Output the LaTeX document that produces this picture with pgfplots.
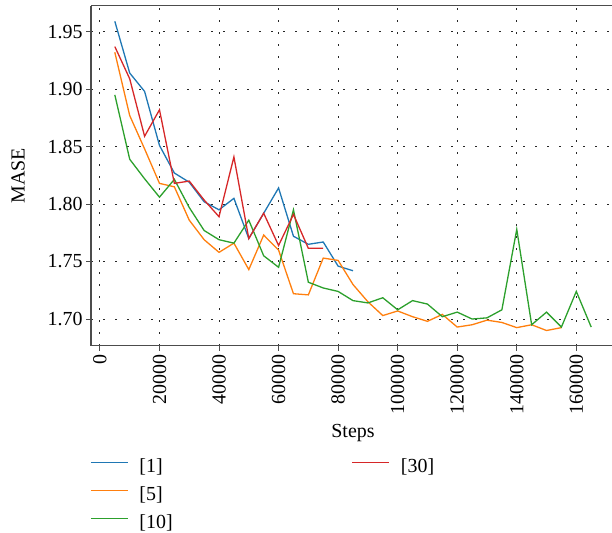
\documentclass[border=0pt]{standalone}
\usepackage{pgfplots}
\pgfplotsset{compat=1.18}
\usepackage{fontspec}
\setmainfont{Liberation Serif}

\definecolor{tabblue}{HTML}{1F77B4}
\definecolor{taborange}{HTML}{FF7F0E}
\definecolor{tabgreen}{HTML}{2CA02C}
\definecolor{tabred}{HTML}{D62728}

\newcommand{\chartfont}{\fontsize{20}{24}\selectfont}

% MASE over training steps for four settings
\pgfplotstableread{
step mase
5000 1.959
10000 1.914
15000 1.898
20000 1.851
25000 1.827
30000 1.819
35000 1.802
40000 1.795
45000 1.805
50000 1.770
55000 1.792
60000 1.814
65000 1.772
70000 1.765
75000 1.767
80000 1.746
85000 1.742
}\runone

\pgfplotstableread{
step mase
5000 1.932
10000 1.877
15000 1.848
20000 1.818
25000 1.815
30000 1.786
35000 1.769
40000 1.758
45000 1.766
50000 1.743
55000 1.773
60000 1.760
65000 1.722
70000 1.721
75000 1.753
80000 1.751
85000 1.730
90000 1.715
95000 1.703
100000 1.707
105000 1.702
110000 1.698
115000 1.704
120000 1.693
125000 1.695
130000 1.699
135000 1.697
140000 1.6925
145000 1.695
150000 1.690
155000 1.6925
}\runfive

\pgfplotstableread{
step mase
5000 1.895
10000 1.839
15000 1.822
20000 1.806
25000 1.8215
30000 1.797
35000 1.777
40000 1.769
45000 1.766
50000 1.786
55000 1.755
60000 1.745
65000 1.795
70000 1.732
75000 1.727
80000 1.724
85000 1.716
90000 1.714
95000 1.7185
100000 1.708
105000 1.716
110000 1.713
115000 1.702
120000 1.706
125000 1.700
130000 1.701
135000 1.708
140000 1.778
145000 1.695
150000 1.706
155000 1.693
160000 1.724
165000 1.693
}\runten

\pgfplotstableread{
step mase
5000 1.937
10000 1.909
15000 1.859
20000 1.882
25000 1.818
30000 1.820
35000 1.8035
40000 1.789
45000 1.841
50000 1.770
55000 1.792
60000 1.764
65000 1.791
70000 1.7615
75000 1.7615
}\runthirty

\begin{document}
\begin{tikzpicture}[x=1bp,y=1bp]
\clip (0,0) rectangle (612,533);
\begin{axis}[
  at={(91bp,187.2bp)}, anchor=south west,
  scale only axis, width=524bp, height=340bp,
  xmin=-3000, xmax=173000, ymin=1.6767, ymax=1.9725,
  xtick={0,20000,40000,60000,80000,100000,120000,140000,160000},
  xticklabels={0,20000,40000,60000,80000,100000,120000,140000,160000},
  ytick={1.70,1.75,1.80,1.85,1.90,1.95},
  yticklabels={1.70,1.75,1.80,1.85,1.90,1.95},
  scaled x ticks=false,
  axis lines*=left,
  tick align=outside,
  major tick length=5bp,
  tick style={black!70, line width=0.9bp},
  axis line style={black!70, line width=1.3bp, -},
  grid=major,
  major grid style={black!85, line width=0.9bp, dash pattern=on 1.8bp off 10.2bp},
  tick label style={font=\chartfont},
  xticklabel style={rotate=90, anchor=east},
  label style={font=\chartfont},
  xlabel={Steps},
  ylabel={MASE},
  xlabel style={at={(axis description cs:0.5,-0.256)}, anchor=center},
  ylabel style={at={(axis description cs:-0.139,0.5)}, anchor=center},
  legend style={font=\chartfont, draw=none, fill=none, inner sep=0bp,
    at={(axis description cs:-0.002,-0.327)}, anchor=north west,
    row sep=8bp,
    nodes={inner sep=0bp, text height=15bp, text depth=5bp},
    /tikz/every odd column/.append style={column sep=11bp},
    /tikz/every even column/.append style={column sep=179bp}},
  legend cell align=left,
  legend columns=2,
  legend image code/.code={\draw[#1] (0bp,5bp) -- (37bp,5bp);},
  every axis plot/.append style={line width=1.3bp},
]
\draw[black!70, line width=1.3bp] (rel axis cs:0,1) -- (rel axis cs:1,1);
\addplot[tabblue, forget plot] table[x=step, y=mase] {\runone};
\addplot[taborange, forget plot] table[x=step, y=mase] {\runfive};
\addplot[tabgreen, forget plot] table[x=step, y=mase] {\runten};
\addplot[tabred, forget plot] table[x=step, y=mase] {\runthirty};
% legend laid out column by column
\addlegendimage{tabblue, line width=1.3bp}
\addlegendentry{[1]}
\addlegendimage{tabred, line width=1.3bp}
\addlegendentry{[30]}
\addlegendimage{taborange, line width=1.3bp}
\addlegendentry{[5]}
\addlegendimage{empty legend}
\addlegendentry{}
\addlegendimage{tabgreen, line width=1.3bp}
\addlegendentry{[10]}
\end{axis}
\end{tikzpicture}
\end{document}
